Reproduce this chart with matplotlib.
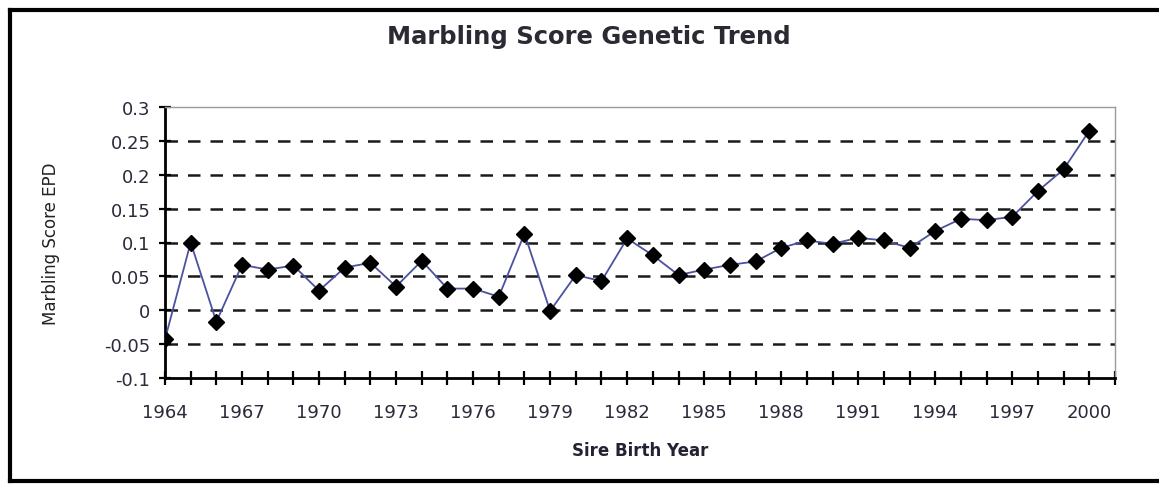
import numpy as np
import matplotlib.pyplot as plt
from matplotlib.lines import Line2D
from matplotlib.ticker import MultipleLocator

plt.rcParams['font.family'] = ['DejaVu Sans']

# data
years = list(range(1964, 2001))
epd = [-0.043, 0.100, -0.017, 0.067, 0.060, 0.066, 0.029, 0.063, 0.070, 0.035,
       0.073, 0.032, 0.032, 0.020, 0.113, -0.001, 0.052, 0.043, 0.106, 0.081,
       0.052, 0.060, 0.067, 0.072, 0.092, 0.103, 0.098, 0.107, 0.103, 0.092,
       0.117, 0.135, 0.133, 0.138, 0.176, 0.208, 0.265]
year_labels = list(range(1964, 2001, 3))
y_ticks = [-0.1, -0.05, 0, 0.05, 0.1, 0.15, 0.2, 0.25, 0.3]
y_tick_labels = ['-0.1', '-0.05', '0', '0.05', '0.1', '0.15', '0.2', '0.25', '0.3']

W, H = 1159, 489
fig = plt.figure(figsize=(W / 100, H / 100), dpi=100)
ax = fig.add_axes([165 / W, 1 - 379 / H, 950 / W, 271 / H])

# outer chart border (left, top, bottom only - right edge is cut off)
for xs, ys in [([10, 10], [11, 482]), ([10, W], [11, 11]), ([10, W], [482, 482])]:
    fig.add_artist(Line2D([x / W for x in xs], [1 - y / H for y in ys],
                          transform=fig.transFigure, color='black', linewidth=3))

# dashed gridlines
for v in y_ticks[1:-1]:
    ax.axhline(v, color='#1a1a1a', linestyle=(0, (5, 4)), linewidth=1.8, zorder=1)

ax.plot(years, epd, color='#4a52a0', linewidth=1.3, marker='D',
        markersize=8.5, markerfacecolor='black', markeredgecolor='black', zorder=3)

ax.set_xlim(1964, 2001)
ax.set_ylim(-0.1, 0.3)
ax.set_xticks(year_labels)
ax.set_xticklabels([str(y) for y in year_labels])
ax.xaxis.set_minor_locator(MultipleLocator(1))
ax.set_yticks(y_ticks)
ax.set_yticklabels(y_tick_labels)

ax.tick_params(axis='x', which='both', direction='inout', length=10, width=1.6,
               labelsize=13, pad=13, labelcolor='#2a2a3a')
ax.tick_params(axis='y', direction='inout', length=9, width=1.6, labelsize=13,
               pad=6, labelcolor='#2a2a3a')

ax.spines['left'].set_linewidth(2)
ax.spines['bottom'].set_linewidth(2)
ax.spines['top'].set_color('#9a9a9a')
ax.spines['top'].set_linewidth(1)
ax.spines['right'].set_color('#9a9a9a')
ax.spines['right'].set_linewidth(1)

ax.set_xlabel('Sire Birth Year', fontsize=12, fontweight='bold', color='#222233')
ax.xaxis.set_label_coords(0.5, -(442 - 379) / 271)
ax.set_ylabel('Marbling Score EPD', fontsize=12, color='#222222')
ax.yaxis.set_label_coords(-(165 - 60) / 950, 0.5)
fig.text(589 / W, 1 - 37 / H, 'Marbling Score Genetic Trend', ha='center', va='center',
         fontsize=17.5, fontweight='bold', color='#2a2a33')

fig.savefig('out.png', dpi=100, facecolor='white')
